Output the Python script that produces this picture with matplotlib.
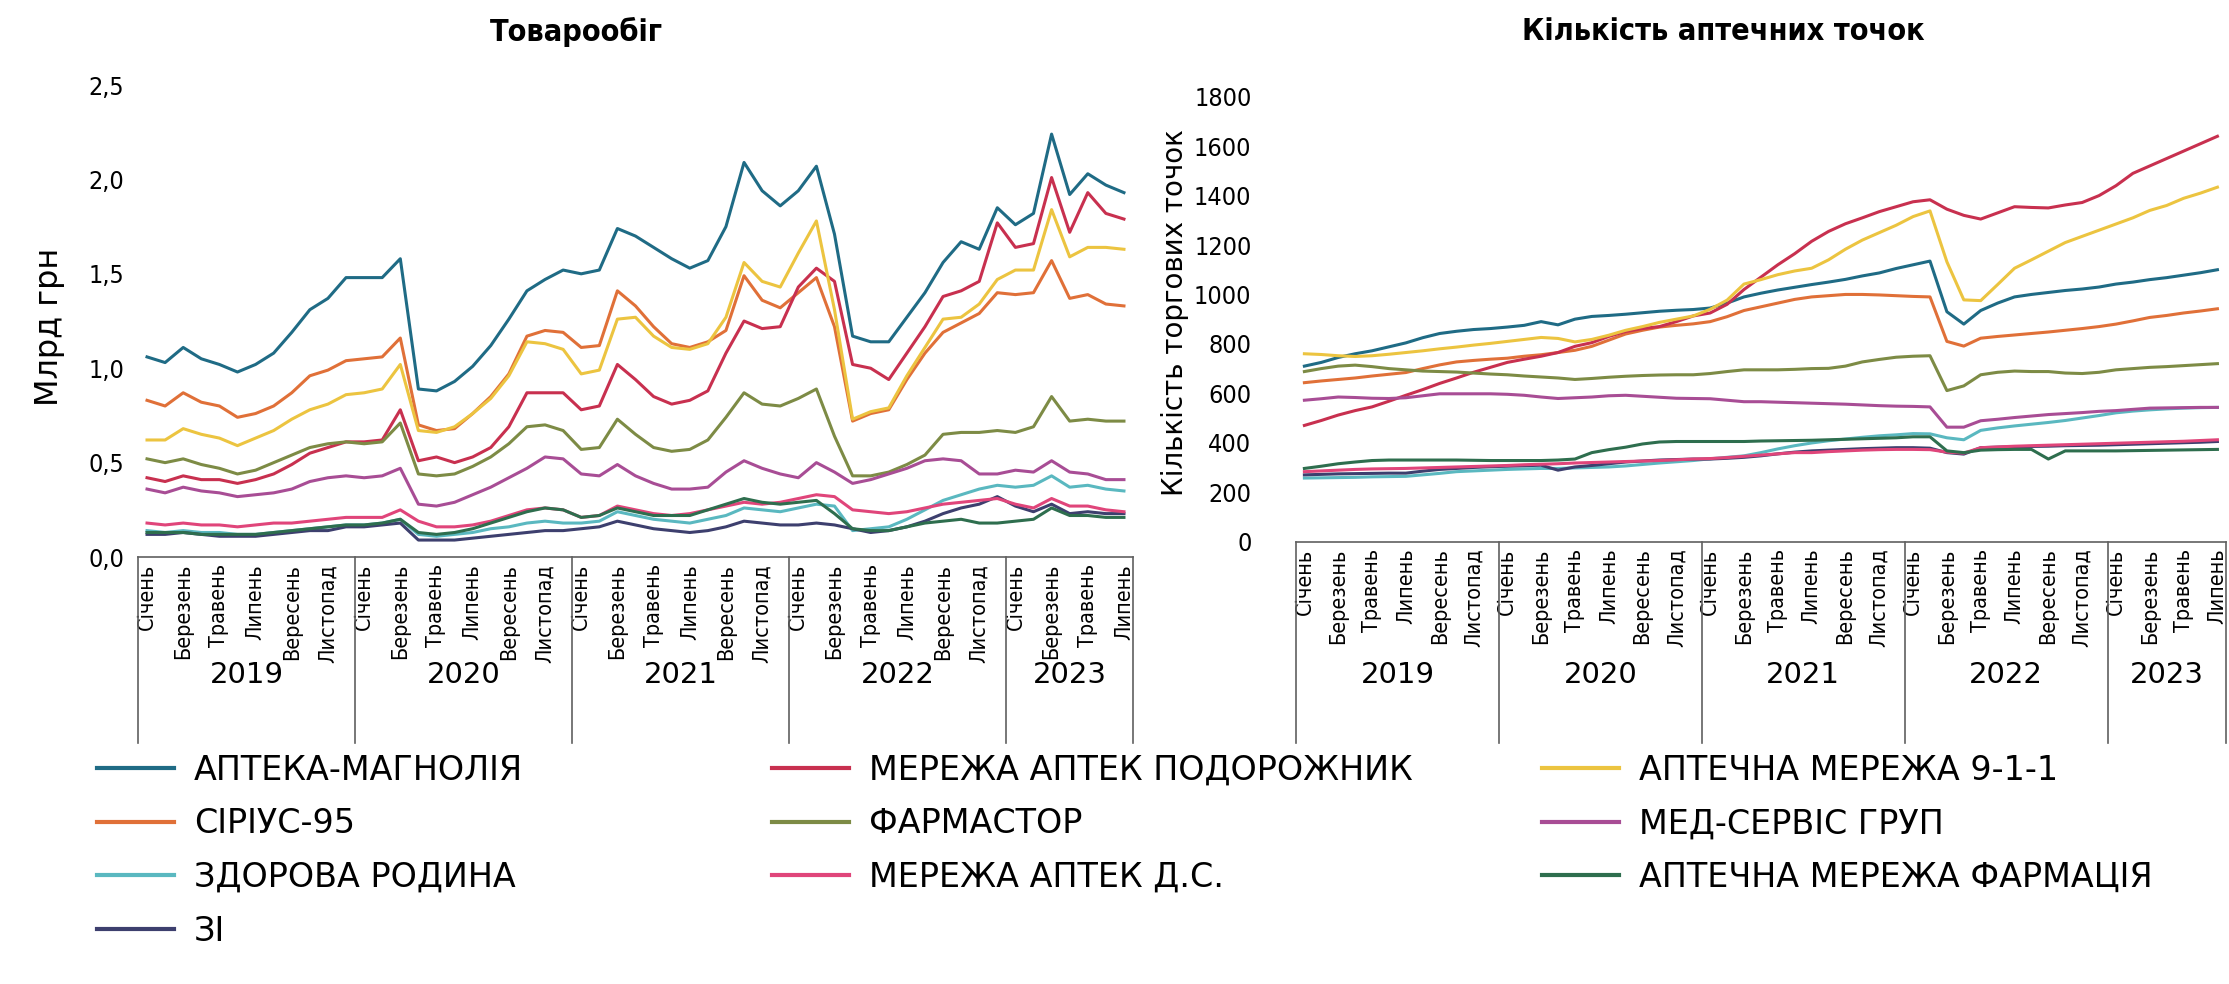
import matplotlib.pyplot as plt
from matplotlib import font_manager as fm
from matplotlib.ticker import FuncFormatter

# вузький шрифт для підписів осей, якщо такий є
entries = fm.fontManager.ttflist
narrow_name, narrow_stretch, narrow_scale = 'Liberation Sans', 'normal', 0.82
for f in entries:
    bad = 'Mono' in f.name or 'Serif' in f.name
    if not bad and ('Narrow' in f.name or 'Condensed' in f.name or 'condensed' in str(f.stretch)):
        narrow_name, narrow_stretch, narrow_scale = f.name, str(f.stretch), 1.0
        if 'Sans' in f.name:
            break
NARROW = dict(family=[narrow_name, 'DejaVu Sans'], stretch=narrow_stretch)

months = ['Січень', 'Березень', 'Травень', 'Липень', 'Вересень', 'Листопад']
years = ['2019', '2020', '2021', '2022', '2023']
year_lengths = [12, 12, 12, 12, 7]

names = ['АПТЕКА-МАГНОЛІЯ', 'СІРІУС-95', 'ЗДОРОВА РОДИНА', 'ЗІ',
         'МЕРЕЖА АПТЕК ПОДОРОЖНИК', 'ФАРМАСТОР', 'МЕРЕЖА АПТЕК Д.С.',
         'АПТЕЧНА МЕРЕЖА 9-1-1', 'МЕД-СЕРВІС ГРУП', 'АПТЕЧНА МЕРЕЖА ФАРМАЦІЯ']
colors = ['#1f6b85', '#e07038', '#5ab8c0', '#3d3f6e',
          '#c8304f', '#7d8b45', '#e0457a',
          '#ecc440', '#a84d95', '#2e6e4e']

# Товарообіг, млрд грн (січень 2019 - липень 2023)
sales_magnolia = [1.06, 1.03, 1.11, 1.05, 1.02, 0.98, 1.02, 1.08, 1.19, 1.31, 1.37, 1.48, 1.48, 1.48,
                  1.58, 0.89, 0.88, 0.93, 1.01, 1.12, 1.26, 1.41, 1.47, 1.52, 1.50, 1.52, 1.74,
                  1.70, 1.64, 1.58, 1.53, 1.57, 1.75, 2.09, 1.94, 1.86, 1.94, 2.07, 1.71, 1.17, 1.14,
                  1.14, 1.27, 1.40, 1.56, 1.67, 1.63, 1.85, 1.76, 1.82, 2.24, 1.92, 2.03, 1.97, 1.93]
sales_sirius = [0.83, 0.80, 0.87, 0.82, 0.80, 0.74, 0.76, 0.80, 0.87, 0.96, 0.99, 1.04, 1.05, 1.06,
                1.16, 0.70, 0.67, 0.68, 0.76, 0.85, 0.97, 1.17, 1.20, 1.19, 1.11, 1.12, 1.41,
                1.33, 1.22, 1.13, 1.11, 1.14, 1.20, 1.49, 1.36, 1.32, 1.40, 1.48, 1.22, 0.72, 0.76,
                0.78, 0.94, 1.08, 1.19, 1.24, 1.29, 1.40, 1.39, 1.40, 1.57, 1.37, 1.39, 1.34, 1.33]
sales_zdorova = [0.14, 0.13, 0.14, 0.13, 0.13, 0.12, 0.12, 0.13, 0.14, 0.15, 0.16, 0.17, 0.17, 0.18,
                 0.20, 0.12, 0.11, 0.12, 0.13, 0.15, 0.16, 0.18, 0.19, 0.18, 0.18, 0.19, 0.24,
                 0.22, 0.20, 0.19, 0.18, 0.20, 0.22, 0.26, 0.25, 0.24, 0.26, 0.28, 0.27, 0.14, 0.15,
                 0.16, 0.20, 0.25, 0.30, 0.33, 0.36, 0.38, 0.37, 0.38, 0.43, 0.37, 0.38, 0.36, 0.35]
sales_zi = [0.12, 0.12, 0.13, 0.12, 0.11, 0.11, 0.11, 0.12, 0.13, 0.14, 0.14, 0.16, 0.16, 0.17,
            0.18, 0.09, 0.09, 0.09, 0.10, 0.11, 0.12, 0.13, 0.14, 0.14, 0.15, 0.16, 0.19,
            0.17, 0.15, 0.14, 0.13, 0.14, 0.16, 0.19, 0.18, 0.17, 0.17, 0.18, 0.17, 0.15, 0.13,
            0.14, 0.16, 0.19, 0.23, 0.26, 0.28, 0.32, 0.27, 0.24, 0.28, 0.23, 0.24, 0.23, 0.23]
sales_podorozhnyk = [0.42, 0.40, 0.43, 0.41, 0.41, 0.39, 0.41, 0.44, 0.49, 0.55, 0.58, 0.61, 0.61, 0.62,
                     0.78, 0.51, 0.53, 0.50, 0.53, 0.58, 0.69, 0.87, 0.87, 0.87, 0.78, 0.80, 1.02,
                     0.94, 0.85, 0.81, 0.83, 0.88, 1.08, 1.25, 1.21, 1.22, 1.43, 1.53, 1.46, 1.02, 1.00,
                     0.94, 1.08, 1.22, 1.38, 1.41, 1.46, 1.77, 1.64, 1.66, 2.01, 1.72, 1.93, 1.82, 1.79]
sales_farmastor = [0.52, 0.50, 0.52, 0.49, 0.47, 0.44, 0.46, 0.50, 0.54, 0.58, 0.60, 0.61, 0.60, 0.61,
                   0.71, 0.44, 0.43, 0.44, 0.48, 0.53, 0.60, 0.69, 0.70, 0.67, 0.57, 0.58, 0.73,
                   0.65, 0.58, 0.56, 0.57, 0.62, 0.74, 0.87, 0.81, 0.80, 0.84, 0.89, 0.64, 0.43, 0.43,
                   0.45, 0.49, 0.54, 0.65, 0.66, 0.66, 0.67, 0.66, 0.69, 0.85, 0.72, 0.73, 0.72, 0.72]
sales_ds = [0.18, 0.17, 0.18, 0.17, 0.17, 0.16, 0.17, 0.18, 0.18, 0.19, 0.20, 0.21, 0.21, 0.21,
            0.25, 0.19, 0.16, 0.16, 0.17, 0.19, 0.22, 0.25, 0.26, 0.25, 0.21, 0.22, 0.27,
            0.25, 0.23, 0.22, 0.23, 0.25, 0.27, 0.29, 0.28, 0.29, 0.31, 0.33, 0.32, 0.25, 0.24,
            0.23, 0.24, 0.26, 0.28, 0.29, 0.30, 0.31, 0.28, 0.26, 0.31, 0.27, 0.27, 0.25, 0.24]
sales_911 = [0.62, 0.62, 0.68, 0.65, 0.63, 0.59, 0.63, 0.67, 0.73, 0.78, 0.81, 0.86, 0.87, 0.89,
             1.02, 0.67, 0.66, 0.69, 0.76, 0.84, 0.96, 1.14, 1.13, 1.10, 0.97, 0.99, 1.26,
             1.27, 1.17, 1.11, 1.10, 1.13, 1.27, 1.56, 1.46, 1.43, 1.61, 1.78, 1.31, 0.73, 0.77,
             0.79, 0.96, 1.11, 1.26, 1.27, 1.34, 1.47, 1.52, 1.52, 1.84, 1.59, 1.64, 1.64, 1.63]
sales_medservis = [0.36, 0.34, 0.37, 0.35, 0.34, 0.32, 0.33, 0.34, 0.36, 0.40, 0.42, 0.43, 0.42, 0.43,
                   0.47, 0.28, 0.27, 0.29, 0.33, 0.37, 0.42, 0.47, 0.53, 0.52, 0.44, 0.43, 0.49,
                   0.43, 0.39, 0.36, 0.36, 0.37, 0.45, 0.51, 0.47, 0.44, 0.42, 0.50, 0.45, 0.39, 0.41,
                   0.44, 0.47, 0.51, 0.52, 0.51, 0.44, 0.44, 0.46, 0.45, 0.51, 0.45, 0.44, 0.41, 0.41]
sales_farmatsiya = [0.13, 0.13, 0.13, 0.12, 0.12, 0.12, 0.12, 0.13, 0.14, 0.15, 0.16, 0.17, 0.17, 0.18,
                    0.20, 0.13, 0.12, 0.13, 0.15, 0.18, 0.21, 0.24, 0.26, 0.25, 0.21, 0.22, 0.26,
                    0.24, 0.22, 0.22, 0.22, 0.25, 0.28, 0.31, 0.29, 0.28, 0.29, 0.30, 0.23, 0.15, 0.14,
                    0.14, 0.16, 0.18, 0.19, 0.20, 0.18, 0.18, 0.19, 0.20, 0.26, 0.22, 0.22, 0.21, 0.21]

# Кількість аптечних точок
shops_magnolia = [710, 725, 745, 760, 772, 788, 804, 825, 842, 851, 858, 862,
                  868, 875, 890, 877, 900, 911, 915, 920, 926, 932, 936, 939,
                  945, 965, 990, 1005, 1018, 1029, 1040, 1050, 1061, 1075, 1087, 1105,
                  1120, 1135, 930, 880, 935, 965, 990, 1000, 1008, 1016, 1022, 1030,
                  1042, 1050, 1060, 1068, 1078, 1088, 1100]
shops_sirius = [643, 650, 656, 662, 670, 677, 684, 700, 715, 727, 733, 738,
                742, 750, 756, 765, 774, 790, 815, 840, 855, 868, 875, 881,
                890, 910, 935, 950, 965, 980, 990, 995, 1000, 1000, 998, 995,
                992, 990, 810, 791, 823, 830, 836, 842, 848, 855, 862, 870,
                880, 893, 907, 915, 925, 933, 942]
shops_zdorova = [257, 258, 259, 260, 262, 263, 264, 270, 276, 283, 286, 289,
                 292, 294, 296, 296, 298, 300, 302, 306, 312, 318, 323, 328,
                 335, 341, 347, 360, 375, 388, 399, 408, 415, 422, 428, 432,
                 437, 436, 420, 412, 450, 460, 468, 475, 482, 490, 500, 510,
                 521, 528, 533, 537, 540, 542, 543]
shops_zi = [270, 272, 274, 275, 276, 277, 277, 285, 292, 296, 300, 303,
            305, 307, 309, 289, 302, 308, 315, 322, 326, 330, 332, 334,
            334, 337, 341, 347, 355, 362, 367, 370, 373, 376, 378, 380,
            380, 378, 360, 354, 380, 382, 384, 385, 386, 388, 389, 390,
            392, 394, 396, 398, 400, 402, 405]
shops_podorozhnyk = [470, 490, 512, 530, 545, 568, 592, 615, 640, 662, 685, 705,
                     725, 738, 750, 765, 790, 805, 830, 850, 862, 870, 890, 913,
                     925, 960, 1020, 1070, 1120, 1165, 1215, 1255, 1286, 1310, 1335, 1355,
                     1375, 1383, 1345, 1320, 1305, 1330, 1355, 1352, 1350, 1362, 1372, 1400,
                     1440, 1490, 1520, 1550, 1580, 1610, 1640]
shops_farmastor = [688, 700, 710, 714, 708, 700, 695, 690, 688, 686, 682, 678,
                   675, 670, 666, 662, 656, 660, 665, 669, 672, 674, 675, 675,
                   680, 688, 695, 695, 695, 697, 700, 701, 710, 727, 737, 746,
                   750, 752, 611, 630, 675, 685, 690, 688, 688, 682, 680, 685,
                   695, 700, 705, 708, 712, 716, 720]
shops_ds = [283, 286, 289, 292, 294, 295, 296, 298, 300, 302, 304, 306,
            308, 311, 313, 315, 318, 320, 322, 324, 326, 328, 331, 334,
            336, 340, 345, 350, 355, 360, 360, 364, 367, 370, 372, 373,
            373, 372, 362, 358, 380, 383, 386, 388, 390, 392, 394, 396,
            398, 400, 402, 404, 406, 409, 412]
shops_911 = [760, 757, 752, 749, 752, 758, 765, 772, 780, 787, 795, 802,
             810, 818, 826, 822, 808, 818, 835, 855, 870, 887, 900, 913,
             940, 977, 1042, 1060, 1080, 1095, 1106, 1140, 1183, 1220, 1250, 1280,
             1315, 1338, 1132, 978, 975, 1040, 1106, 1140, 1175, 1210, 1235, 1260,
             1285, 1310, 1340, 1360, 1389, 1410, 1434]
shops_medservis = [572, 578, 585, 583, 580, 579, 582, 590, 598, 598, 598, 598,
                   596, 592, 585, 579, 582, 585, 590, 592, 588, 584, 580, 579,
                   578, 572, 566, 566, 564, 562, 560, 558, 556, 553, 550, 548,
                   547, 545, 463, 463, 489, 495, 502, 508, 514, 518, 522, 527,
                   530, 535, 540, 541, 542, 543, 543]
shops_farmatsiya = [296, 305, 315, 322, 328, 330, 330, 330, 330, 330, 329, 328,
                    328, 328, 328, 330, 334, 360, 372, 382, 395, 403, 405, 405,
                    405, 405, 405, 407, 408, 409, 410, 412, 414, 416, 418, 420,
                    424, 424, 367, 360, 370, 372, 373, 373, 334, 367, 367, 367,
                    367, 368, 369, 370, 371, 372, 373]

sales = [sales_magnolia, sales_sirius, sales_zdorova, sales_zi, sales_podorozhnyk,
         sales_farmastor, sales_ds, sales_911, sales_medservis, sales_farmatsiya]
shops = [shops_magnolia, shops_sirius, shops_zdorova, shops_zi, shops_podorozhnyk,
         shops_farmastor, shops_ds, shops_911, shops_medservis, shops_farmatsiya]

n = sum(year_lengths)
x = list(range(n))

tick_pos, tick_lab, bounds = [], [], [-0.5]
start = 0
for ln in year_lengths:
    for k in range(0, ln, 2):
        tick_pos.append(start + k)
        tick_lab.append(months[k // 2])
    start += ln
    bounds.append(start - 0.5)

fig = plt.figure(figsize=(22.29, 9.84), dpi=100)
ax1 = fig.add_axes([0.0619, 0.4339, 0.4464, 0.4797])
ax2 = fig.add_axes([0.5814, 0.4496, 0.4172, 0.4521])

line_col = '#606060'
month_size = 15.5 * narrow_scale
ytick_size = 18 * narrow_scale
title_size = 22 * narrow_scale


def table_axis(ax, year_y, line_bottom, ypad):
    ax.set_xlim(-0.5, n - 0.5)
    ax.set_xticks(tick_pos)
    ax.set_xticklabels(tick_lab, rotation=90, fontsize=month_size, **NARROW)
    for t in ax.get_yticklabels():
        t.set_fontsize(ytick_size)
        t.set_family(NARROW['family'])
        t.set_stretch(NARROW['stretch'])
    ax.tick_params(axis='x', length=0, pad=5)
    ax.tick_params(axis='y', length=0, pad=ypad)
    for s in ['top', 'right', 'left']:
        ax.spines[s].set_visible(False)
    ax.spines['bottom'].set_color(line_col)
    ax.spines['bottom'].set_linewidth(1.2)
    trans = ax.get_xaxis_transform()
    for b in bounds:
        ax.plot([b, b], [0, line_bottom], color=line_col, lw=1.2,
                transform=trans, clip_on=False)
    s0 = 0
    for yr, ln in zip(years, year_lengths):
        ax.text(s0 + (ln - 1) / 2, year_y, yr, transform=trans,
                ha='center', va='center', fontsize=21)
        s0 += ln


handles = []
for name, col, s in zip(names, colors, sales):
    h, = ax1.plot(x, s, color=col, lw=2.2, label=name)
    handles.append(h)
for name, col, s in zip(names, colors, shops):
    ax2.plot(x, s, color=col, lw=2.2)

ax1.set_ylim(0, 2.5)
ax1.set_yticks([0, 0.5, 1.0, 1.5, 2.0, 2.5])
ax1.yaxis.set_major_formatter(FuncFormatter(lambda v, p: f'{v:.1f}'.replace('.', ',')))
table_axis(ax1, -0.25, -0.394, 10)

ax2.set_ylim(0, 1800)
ax2.set_yticks(range(0, 1801, 200))
table_axis(ax2, -0.30, -0.453, 32)

fig.text(0.2584, 0.968, 'Товарообіг', ha='center', va='center', fontsize=title_size,
         fontweight='bold', **NARROW)
fig.text(0.773, 0.968, 'Кількість аптечних точок', ha='center', va='center',
         fontsize=title_size, fontweight='bold', **NARROW)
fig.text(0.0224, 0.668, 'Млрд грн', rotation=90, ha='center', va='center', fontsize=23)
fig.text(0.527, 0.682, 'Кількість торгових точок', rotation=90, ha='center', va='center',
         fontsize=20)

# легенда у три колонки різної ширини
cols = [(0.0435, [0, 1, 2, 3]), (0.3463, [4, 5, 6]), (0.6918, [7, 8, 9])]
for cx, idx in cols:
    leg = fig.legend([handles[i] for i in idx], [names[i] for i in idx],
                     loc='upper left', bbox_to_anchor=(cx, 0.234), frameon=False,
                     fontsize=24, handlelength=2.3, handletextpad=0.6,
                     labelspacing=0.62, borderpad=0, borderaxespad=0)
    for lh in leg.get_lines():
        lh.set_linewidth(3)

fig.savefig('out.png', dpi=100)
